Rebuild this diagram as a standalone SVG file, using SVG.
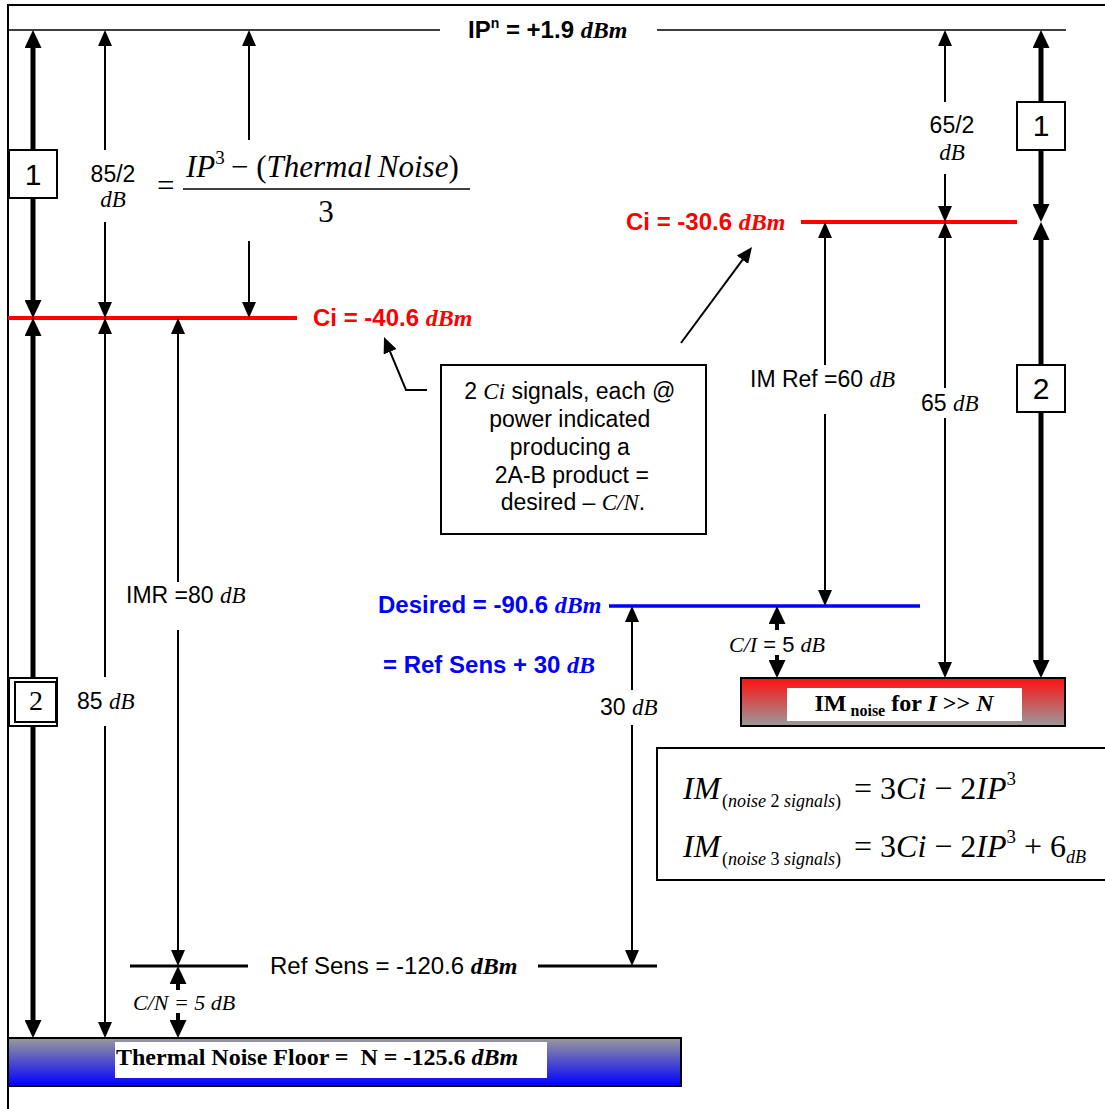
<svg xmlns="http://www.w3.org/2000/svg" width="1105" height="1109" viewBox="0 0 1105 1109">
<style>
.s{font-family:"Liberation Sans",Arial,sans-serif;font-size:23px}
.t{font-family:"Liberation Serif","Times New Roman",serif}
.i{font-style:italic}
.b{font-weight:bold}
.lb{font-size:24px}
.f30{font-size:31px}
.red{fill:#ff0000}
.blue{fill:#0000ff}
.thin{stroke:#000;stroke-width:2;fill:none}
.thick{stroke:#000;stroke-width:5;fill:none}
.med{stroke:#000;stroke-width:4;fill:none}
.box{fill:#fff;stroke:#000;stroke-width:2}
.num{font-family:"Liberation Sans",Arial,sans-serif;font-size:30px}
</style>
<defs>
<marker id="a" viewBox="0 0 16 14" markerWidth="16" markerHeight="14" refX="4" refY="7" orient="auto-start-reverse" markerUnits="userSpaceOnUse"><path d="M0,0 L16,7 L0,14 z" fill="#000"/></marker>
<marker id="A" viewBox="0 0 18 17" markerWidth="18" markerHeight="17" refX="5" refY="8.5" orient="auto-start-reverse" markerUnits="userSpaceOnUse"><path d="M0,0 L18,8.5 L0,17 z" fill="#000"/></marker>
<linearGradient id="gBlue" x1="0" y1="0" x2="0" y2="1"><stop offset="0" stop-color="#9a9a9a"/><stop offset="1" stop-color="#0000ff"/></linearGradient>
<linearGradient id="gRed" x1="0" y1="0" x2="0" y2="1"><stop offset="0" stop-color="#ff1010"/><stop offset="1" stop-color="#9a9a9a"/></linearGradient>
</defs>
<rect width="1105" height="1109" fill="#fff"/>

<g id="frame">
<path d="M8,1109 V5 H1105" fill="none" stroke="#000" stroke-width="2"/>
</g>

<g id="levels">
<path d="M8,30 H440 M657,30 H1066" stroke="#000" stroke-width="1.5" fill="none"/>
<path d="M8,318 H297 M801,222 H1017" stroke="#ff0000" stroke-width="4" fill="none"/>
<path d="M609,606 H920" stroke="#0000ff" stroke-width="3.5" fill="none"/>
<path d="M130,966 H248 M538,966 H657" stroke="#000" stroke-width="3" fill="none"/>
</g>

<g id="connectors">
<path class="thin" d="M105,42 V150" marker-start="url(#a)"/>
<path class="thin" d="M105,222 V306" marker-end="url(#a)"/>
<path class="thin" d="M249,42 V140" marker-start="url(#a)"/>
<path class="thin" d="M249,241 V306" marker-end="url(#a)"/>
<path class="thin" d="M105,330 V677" marker-start="url(#a)"/>
<path class="thin" d="M105,726 V1026" marker-end="url(#a)"/>
<path class="thin" d="M178,330 V582" marker-start="url(#a)"/>
<path class="thin" d="M178,630 V954" marker-end="url(#a)"/>
<path class="thin" d="M632,618 V690" marker-start="url(#a)"/>
<path class="thin" d="M632,725 V954" marker-end="url(#a)"/>
<path class="thin" d="M825,234 V365" marker-start="url(#a)"/>
<path class="thin" d="M825,414 V594" marker-end="url(#a)"/>
<path class="thin" d="M945,42 V102" marker-start="url(#a)"/>
<path class="thin" d="M945,174 V210" marker-end="url(#a)"/>
<path class="thin" d="M945,234 V388" marker-start="url(#a)"/>
<path class="thin" d="M945,418 V666" marker-end="url(#a)"/>
<path class="thick" d="M33,43 V305" marker-start="url(#A)" marker-end="url(#A)"/>
<path class="thick" d="M33,331 V1025" marker-start="url(#A)" marker-end="url(#A)"/>
<path class="thick" d="M1041,43 V209" marker-start="url(#A)" marker-end="url(#A)"/>
<path class="thick" d="M1041,235 V665" marker-start="url(#A)" marker-end="url(#A)"/>
<path class="med" d="M178,979 V990" marker-start="url(#A)"/>
<path class="med" d="M178,1013 V1025" marker-end="url(#A)"/>
<path class="med" d="M777,619 V630" marker-start="url(#A)"/>
<path class="med" d="M777,655 V665" marker-end="url(#A)"/>
<path class="thin" d="M427,390 H406 L388.6,348.1" marker-end="url(#a)"/>
<path class="thin" d="M681,343 L744.9,256.6" marker-end="url(#a)"/>
</g>

<g id="label-ip">
<text x="468" y="38" class="s b lb">IP<tspan style="font-size:14px" dy="-10">n</tspan><tspan dy="10"> = +1.9 </tspan><tspan class="t i">dBm</tspan></text>
</g>

<g id="label-ci-left">
<text x="313" y="326" class="s b lb red">Ci = -40.6 <tspan class="t i">dBm</tspan></text>
</g>
<g id="label-ci-right">
<text x="626" y="230" class="s b lb red">Ci = -30.6 <tspan class="t i">dBm</tspan></text>
</g>
<g id="label-desired">
<text x="378" y="613" class="s b lb blue">Desired = -90.6 <tspan class="t i">dBm</tspan></text>
<text x="383" y="673" class="s b lb blue">= Ref Sens + 30 <tspan class="t i">dB</tspan></text>
</g>
<g id="label-refsens">
<text x="270" y="974" class="s lb">Ref Sens = -120.6 <tspan class="t i b">dBm</tspan></text>
</g>

<g id="formula-left">
<text x="157" y="196" class="t f30">=</text>
<text x="186" y="177" class="t f30"><tspan class="i">IP</tspan><tspan style="font-size:19px" dy="-13">3</tspan><tspan dy="13">&#8201;− (</tspan><tspan class="i">Thermal&#8201;Noise</tspan>)</text>
<path d="M183,189 H470" stroke="#000" stroke-width="1.5"/>
<text x="326" y="222" class="t f30" text-anchor="middle">3</text>
</g>

<g id="dim-labels">
<text x="113" y="182" class="s" text-anchor="middle">85/2</text>
<text x="113" y="207" class="t i" font-size="23" text-anchor="middle">dB</text>
<text x="952" y="133" class="s" text-anchor="middle">65/2</text>
<text x="952" y="160" class="t i" font-size="23" text-anchor="middle">dB</text>
<text x="126" y="603" class="s">IMR =80 <tspan class="t i">dB</tspan></text>
<text x="77" y="709" class="s">85 <tspan class="t i">dB</tspan></text>
<text x="750" y="387" class="s">IM Ref =60 <tspan class="t i">dB</tspan></text>
<text x="921" y="411" class="s">65 <tspan class="t i">dB</tspan></text>
<text x="600" y="715" class="s">30 <tspan class="t i">dB</tspan></text>
<text x="729" y="652" class="s" style="font-size:22px"><tspan class="t i">C/I</tspan> = 5 <tspan class="t i">dB</tspan></text>
<text x="133" y="1010" class="t i" font-size="22">C/N = 5 dB</text>
</g>

<g id="box-1-left">
<rect x="9" y="150" width="48" height="48" class="box"/>
<text x="33" y="185" class="num" text-anchor="middle">1</text>
</g>
<g id="box-2-left">
<rect x="9" y="678" width="48" height="48" class="box"/>
<rect x="15" y="682" width="41" height="40" class="box"/>
<text x="36" y="710" class="t" font-size="28" text-anchor="middle">2</text>
</g>
<g id="box-1-right">
<rect x="1017" y="102" width="48" height="48" class="box"/>
<text x="1041" y="136" class="num" text-anchor="middle">1</text>
</g>
<g id="box-2-right">
<rect x="1017" y="365" width="48" height="47" class="box"/>
<text x="1041" y="399" class="num" text-anchor="middle">2</text>
</g>

<g id="callout">
<rect x="441" y="365" width="265" height="169" class="box"/>
<text class="s" text-anchor="middle">
<tspan x="573" y="399">2 <tspan class="t i">Ci</tspan> signals, each @</tspan>
<tspan x="573" y="427">power indicated</tspan>
<tspan x="573" y="455">producing a</tspan>
<tspan x="575" y="483">2A-B product =</tspan>
<tspan x="573" y="510">desired – <tspan class="t i">C/N</tspan>.</tspan>
</text>
</g>

<g id="im-noise">
<rect x="741" y="678" width="324" height="48" fill="url(#gRed)" stroke="#000" stroke-width="2"/>
<rect x="787" y="688" width="235" height="33" fill="#fff"/>
<text x="904" y="711" class="t b" font-size="24" text-anchor="middle">IM<tspan font-size="16" dy="5"> noise</tspan><tspan dy="-5"> for </tspan><tspan class="i">I</tspan> &gt;&gt; <tspan class="i">N</tspan></text>
</g>

<g id="thermal-floor">
<rect x="8" y="1038" width="673" height="48" fill="url(#gBlue)" stroke="#000" stroke-width="2"/>
<rect x="115" y="1042" width="432" height="36" fill="#fff"/>
<text x="116" y="1065" class="t b" font-size="24">Thermal Noise Floor =&#160; N = -125.6 <tspan class="i">dBm</tspan></text>
</g>

<g id="formula-box">
<rect x="657" y="748" width="460" height="132" fill="none" stroke="#000" stroke-width="2"/>
<text x="683" y="799" class="t i" font-size="32">IM</text>
<text x="722" y="807" class="t" font-size="18">(<tspan class="i">noise</tspan> 2 <tspan class="i">signals</tspan>)</text>
<text x="854" y="799" class="t" font-size="32">= 3<tspan class="i">Ci</tspan> − 2<tspan class="i">IP</tspan><tspan font-size="19" dy="-14">3</tspan></text>
<text x="683" y="857" class="t i" font-size="32">IM</text>
<text x="722" y="865" class="t" font-size="18">(<tspan class="i">noise</tspan> 3 <tspan class="i">signals</tspan>)</text>
<text x="854" y="857" class="t" font-size="32">= 3<tspan class="i">Ci</tspan> − 2<tspan class="i">IP</tspan><tspan font-size="19" dy="-14">3</tspan><tspan dy="14"> + 6</tspan><tspan class="i" font-size="18" dy="6">dB</tspan></text>
</g>
</svg>
